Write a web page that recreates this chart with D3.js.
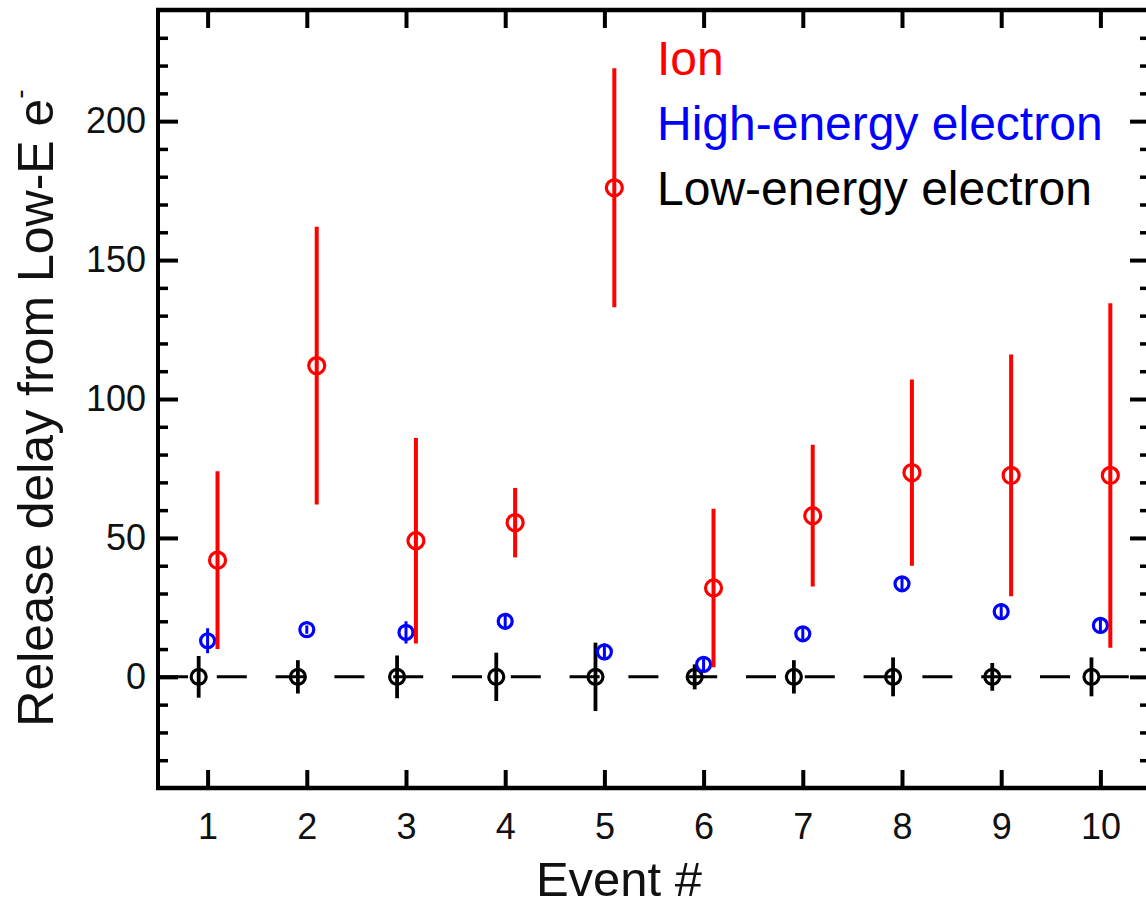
<!DOCTYPE html>
<html>
<head>
<meta charset="utf-8">
<script src="https://cdn.jsdelivr.net/npm/d3@7"></script>
<style>
  body { margin: 0; background: #fff; }
  svg { display: block; font-family: "Liberation Sans", Arial, sans-serif; }
</style>
</head>
<body>
<div id="chart"></div>
<script>
// event numbers
const events = [1, 2, 3, 4, 5, 6, 7, 8, 9, 10];

// ion: release delay and error
const ionDelay = [42, 112, 49, 55.5, 176, 32, 58, 73.5, 72.5, 72.5];
const ionErr   = [32, 50, 37, 12.5, 43, 28.5, 25.5, 33.5, 43.5, 62];

// high-energy electron
const highDelay = [13, 17, 16, 20, 9, 4.5, 15.5, 33.5, 23.5, 18.5];
const highErr   = [4.5, 1.5, 4, 2.5, 3, 3, 2, 2.5, 3, 2];

// low-energy electron (reference, all zero)
const lowDelay = [0, 0, 0, 0, 0, 0, 0, 0, 0, 0];
const lowErr   = [7.5, 6, 7.7, 8.7, 12.3, 4.5, 6, 7, 5, 7];

const legendLabels = ["Ion", "High-energy electron", "Low-energy electron"];
const yMajorTicks = [0, 50, 100, 150, 200];

const W = 1146, H = 908;
const margin = { left: 158, top: 10, right: 1150, bottom: 788 };

const svg = d3.select("#chart").append("svg")
  .attr("width", W).attr("height", H);

const x = d3.scaleLinear().domain([0.5, 10.5]).range([margin.left, margin.right]);
const y = d3.scaleLinear().domain([-40, 240]).range([margin.bottom, margin.top]);

const minorTicks = d3.range(-30, 240, 10).filter(v => v % 50 !== 0);

function styleAxis(g, width) {
  g.select(".domain").remove();
  g.selectAll(".tick line").attr("stroke", "#000").attr("stroke-width", width);
}

// left axis: major + minor, ticks inward
svg.append("g").attr("transform", `translate(${margin.left},0)`)
  .call(d3.axisLeft(y).tickValues(yMajorTicks).tickSizeInner(-20).tickPadding(12))
  .call(g => styleAxis(g, 4))
  .call(g => g.selectAll("text").attr("font-size", 36).attr("fill", "#111")
    .attr("font-family", "Liberation Sans, Arial, sans-serif"));
svg.append("g").attr("transform", `translate(${margin.left},0)`)
  .call(d3.axisLeft(y).tickValues(minorTicks).tickSizeInner(-10).tickFormat(""))
  .call(g => styleAxis(g, 3.5));

// right axis
svg.append("g").attr("transform", `translate(${margin.right},0)`)
  .call(d3.axisRight(y).tickValues(yMajorTicks).tickSizeInner(-20).tickFormat(""))
  .call(g => styleAxis(g, 4));
svg.append("g").attr("transform", `translate(${margin.right},0)`)
  .call(d3.axisRight(y).tickValues(minorTicks).tickSizeInner(-10).tickFormat(""))
  .call(g => styleAxis(g, 3.5));

// bottom axis
svg.append("g").attr("transform", `translate(0,${margin.bottom})`)
  .call(d3.axisBottom(x).tickValues(events).tickSizeInner(-18).tickPadding(25))
  .call(g => styleAxis(g, 4))
  .call(g => g.selectAll("text").attr("font-size", 36).attr("fill", "#111")
    .attr("font-family", "Liberation Sans, Arial, sans-serif"));

// top axis
svg.append("g").attr("transform", `translate(0,${margin.top})`)
  .call(d3.axisTop(x).tickValues(events).tickSizeInner(-18).tickFormat(""))
  .call(g => styleAxis(g, 4));

// frame lines
svg.append("line").attr("x1", margin.left).attr("x2", margin.left)
  .attr("y1", margin.top - 2).attr("y2", margin.bottom + 2)
  .attr("stroke", "#000").attr("stroke-width", 4);
svg.append("line").attr("x1", margin.left - 2).attr("x2", margin.right)
  .attr("y1", margin.bottom).attr("y2", margin.bottom)
  .attr("stroke", "#000").attr("stroke-width", 4.5);
svg.append("line").attr("x1", margin.left - 2).attr("x2", margin.right)
  .attr("y1", margin.top).attr("y2", margin.top)
  .attr("stroke", "#000").attr("stroke-width", 4.5);

// dashed zero line
svg.append("line")
  .attr("x1", margin.left).attr("x2", margin.right)
  .attr("y1", y(0)).attr("y2", y(0))
  .attr("stroke", "#000").attr("stroke-width", 3)
  .attr("stroke-dasharray", "30,28.8");

function drawSeries(vals, errs, offset, color, r, barWidth) {
  const data = events.map((e, i) => ({ e: e + offset, v: vals[i], err: errs[i] }));
  const g = svg.append("g");
  g.selectAll("line").data(data).enter().append("line")
    .attr("x1", d => x(d.e)).attr("x2", d => x(d.e))
    .attr("y1", d => y(d.v + d.err)).attr("y2", d => y(d.v - d.err))
    .attr("stroke", color).attr("stroke-width", barWidth);
  g.selectAll("circle").data(data).enter().append("circle")
    .attr("cx", d => x(d.e)).attr("cy", d => y(d.v))
    .attr("r", r)
    .attr("fill", "none").attr("stroke", color).attr("stroke-width", 3.2);
}

drawSeries(lowDelay, lowErr, -0.09, "#000", 7.5, 3.8);
drawSeries(highDelay, highErr, 0, "#0000ff", 7, 3);
drawSeries(ionDelay, ionErr, 0.1, "#ff0000", 8, 4);

// legend (text only)
const legendColors = ["#ff0000", "#0000ff", "#000"];
svg.append("g").selectAll("text").data(legendLabels).enter().append("text")
  .attr("x", 657).attr("y", (d, i) => 75 + i * 65)
  .attr("font-size", 48).attr("fill", (d, i) => legendColors[i])
  .text(d => d);

// axis titles
svg.append("text").attr("x", 619).attr("y", 896)
  .attr("text-anchor", "middle").attr("font-size", 49).attr("fill", "#111")
  .text("Event #");

const yTitle = svg.append("text")
  .attr("transform", "translate(53,408) rotate(-90)")
  .attr("text-anchor", "middle").attr("font-size", 50).attr("fill", "#111");
yTitle.append("tspan").text("Release delay from Low-E e");
yTitle.append("tspan").attr("font-size", 28).attr("dy", -24).text("-");
</script>
</body>
</html>
